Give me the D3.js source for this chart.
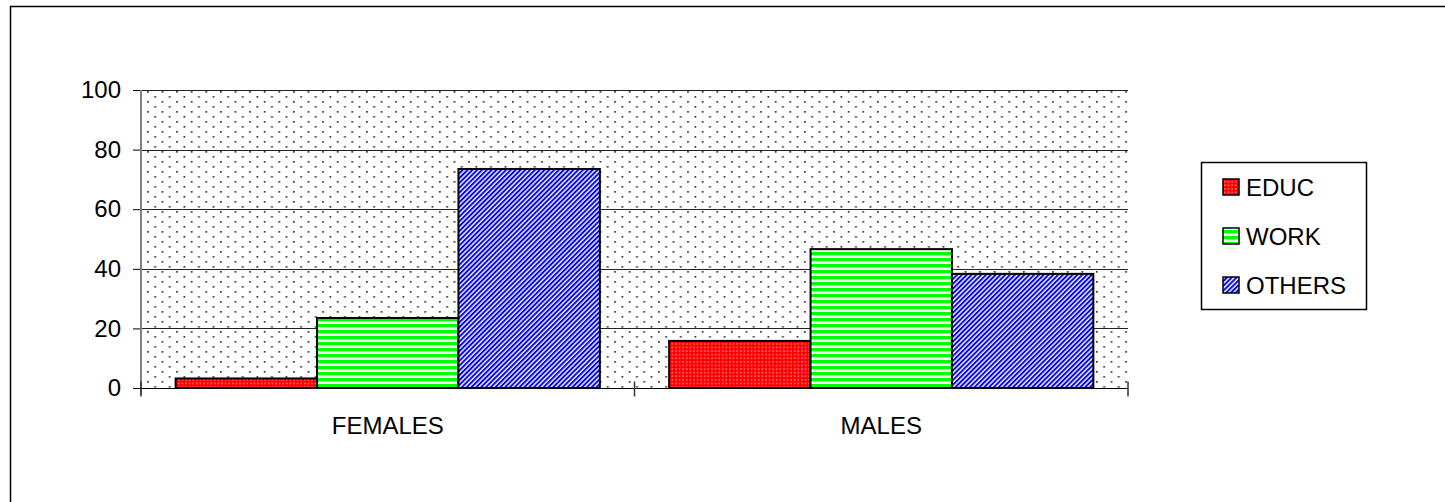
<!DOCTYPE html>
<html>
<head>
<meta charset="utf-8">
<script src="https://cdn.jsdelivr.net/npm/d3@7"></script>
<style>
  body { margin: 0; background: #fff; }
  text { font-family: "Liberation Sans", Arial, sans-serif; fill: #000; }
</style>
</head>
<body>
<svg id="chart"></svg>
<script>
/*
    DATA
*/
var groups = ["FEMALES", "MALES"];
var series = ["EDUC", "WORK", "OTHERS"];
var educValues = [3.2, 15.8];
var workValues = [23.5, 46.6];
var othersValues = [73.5, 38.3];
var yTicks = [0, 20, 40, 60, 80, 100];

var valuesBySeries = {EDUC: educValues, WORK: workValues, OTHERS: othersValues};

/*
    LAYOUT
*/
var width = 1445;
var height = 502;
var plot = {left: 141, right: 1128, top: 90, bottom: 388};
var fontSize = "24px";

var svg = d3.select("#chart")
    .attr("width", width)
    .attr("height", height);

// patterns
var defs = svg.append("defs");

var dots = defs.append("pattern")
    .attr("id", "bgDots")
    .attr("patternUnits", "userSpaceOnUse")
    .attr("width", 14.6).attr("height", 10);
dots.append("rect").attr("width", 14.6).attr("height", 10).attr("fill", "#fff");
dots.append("rect").attr("x", 1).attr("y", 1).attr("width", 1.7).attr("height", 1.7).attr("fill", "#333");
dots.append("rect").attr("x", 8.3).attr("y", 6).attr("width", 1.7).attr("height", 1.7).attr("fill", "#333");

var red = defs.append("pattern")
    .attr("id", "educFill")
    .attr("patternUnits", "userSpaceOnUse")
    .attr("width", 3.6).attr("height", 3.6);
red.append("rect").attr("width", 3.6).attr("height", 3.6).attr("fill", "#ff0000");
red.append("rect").attr("x", 1.2).attr("y", 1.2).attr("width", 1.3).attr("height", 1.3).attr("fill", "#ffb0b0");

var green = defs.append("pattern")
    .attr("id", "workFill")
    .attr("patternUnits", "userSpaceOnUse")
    .attr("width", 10).attr("height", 6);
green.append("rect").attr("width", 10).attr("height", 6).attr("fill", "#ffffff");
green.append("rect").attr("y", 0).attr("width", 10).attr("height", 3.4).attr("fill", "#00ff00");
green.append("rect").attr("y", 3.4).attr("width", 10).attr("height", 0.8).attr("fill", "#a0ffa0");

var blue = defs.append("pattern")
    .attr("id", "othersFill")
    .attr("patternUnits", "userSpaceOnUse")
    .attr("width", 3.4).attr("height", 10)
    .attr("patternTransform", "rotate(45)");
blue.append("rect").attr("width", 3.4).attr("height", 10).attr("fill", "#e4e4dc");
blue.append("rect").attr("width", 1.8).attr("height", 10).attr("fill", "#0000ff");

var fills = {EDUC: "url(#educFill)", WORK: "url(#workFill)", OTHERS: "url(#othersFill)"};

// outer frame (runs off the right/bottom of the picture)
svg.append("rect")
    .attr("x", 10.5).attr("y", 6.5)
    .attr("width", 1460).attr("height", 520)
    .attr("fill", "none")
    .attr("stroke", "#000")
    .attr("stroke-width", 1.5);

/*
    SCALES
*/
var x0 = d3.scaleBand()
    .domain(groups)
    .range([plot.left, plot.right]);

var x1 = d3.scaleBand()
    .domain(series)
    .range([0, x0.bandwidth()])
    .paddingOuter(0.245);

var y = d3.scaleLinear()
    .domain([0, 100])
    .range([plot.bottom, plot.top]);

// plot background
svg.append("rect")
    .attr("x", plot.left).attr("y", plot.top)
    .attr("width", plot.right - plot.left)
    .attr("height", plot.bottom - plot.top)
    .attr("fill", "url(#bgDots)");

// gridlines + y ticks
var yAxis = svg.append("g")
    .attr("class", "y-axis")
    .attr("transform", "translate(" + plot.left + ",0)")
    .call(d3.axisLeft(y).tickValues(yTicks).tickSize(8).tickPadding(12));
yAxis.select(".domain").remove();
yAxis.selectAll(".tick line").attr("stroke", "#000");
yAxis.selectAll(".tick text")
    .style("font-size", fontSize)
    .style("font-family", "'Liberation Sans', Arial, sans-serif");

svg.append("g")
    .attr("class", "grid")
    .selectAll("line")
    .data(yTicks.filter(function(d) { return d > 0; }))
    .enter().append("line")
    .attr("x1", plot.left).attr("x2", plot.right)
    .attr("y1", function(d) { return Math.round(y(d)) + 0.5; })
    .attr("y2", function(d) { return Math.round(y(d)) + 0.5; })
    .attr("stroke", "#222")
    .attr("stroke-width", 1);

// bars
var bars = svg.append("g")
    .selectAll("g")
    .data(groups)
    .enter().append("g")
    .attr("transform", function(g) { return "translate(" + x0(g) + ",0)"; });

bars.selectAll("rect")
    .data(function(g, i) {
        return series.map(function(s) { return {key: s, value: valuesBySeries[s][i]}; });
    })
    .enter().append("rect")
    .attr("x", function(d) { return x1(d.key); })
    .attr("width", x1.bandwidth())
    .attr("y", function(d) { return y(d.value); })
    .attr("height", function(d) { return y(0) - y(d.value); })
    .attr("fill", function(d) { return fills[d.key]; })
    .attr("stroke", "#000")
    .attr("stroke-width", 2);

// left axis line
svg.append("line")
    .attr("x1", plot.left).attr("x2", plot.left)
    .attr("y1", plot.top).attr("y2", plot.bottom + 7)
    .attr("stroke", "#808080")
    .attr("stroke-width", 2);

// x axis
var xAxis = svg.append("g")
    .attr("class", "x-axis")
    .attr("transform", "translate(0," + (Math.round(y(0)) + 0.5) + ")");
xAxis.append("line")
    .attr("x1", plot.left - 8).attr("x2", plot.right)
    .attr("stroke", "#000");
xAxis.selectAll(".xtick")
    .data(groups.map(function(g) { return x0(g); }).concat([plot.right]))
    .enter().append("line")
    .attr("class", "xtick")
    .attr("x1", function(d) { return d; }).attr("x2", function(d) { return d; })
    .attr("y1", -7).attr("y2", 8)
    .attr("stroke", "#333")
    .attr("stroke-width", 1.5);
xAxis.selectAll(".xlabel")
    .data(groups)
    .enter().append("text")
    .attr("class", "xlabel")
    .attr("x", function(g) { return x0(g) + x0.bandwidth() / 2; })
    .attr("y", 45)
    .attr("text-anchor", "middle")
    .style("font-size", fontSize)
    .text(function(g) { return g; });

/*
    LEGEND
*/
var legend = svg.append("g").attr("transform", "translate(1201,162)");
legend.append("rect")
    .attr("x", 0.5).attr("y", 0.5)
    .attr("width", 165).attr("height", 147)
    .attr("fill", "#fff")
    .attr("stroke", "#000")
    .attr("stroke-width", 1.5);

var item = legend.selectAll(".item")
    .data(series)
    .enter().append("g")
    .attr("class", "item")
    .attr("transform", function(d, i) { return "translate(22," + (25 + i * 49) + ")"; });
item.append("rect")
    .attr("x", 0).attr("y", -8)
    .attr("width", 16).attr("height", 16)
    .attr("fill", function(d) { return fills[d]; })
    .attr("stroke", "#000")
    .attr("stroke-width", 1.5);
item.append("text")
    .attr("x", 23).attr("y", 0)
    .attr("dy", "0.36em")
    .style("font-size", fontSize)
    .text(function(d) { return d; });
</script>
</body>
</html>
